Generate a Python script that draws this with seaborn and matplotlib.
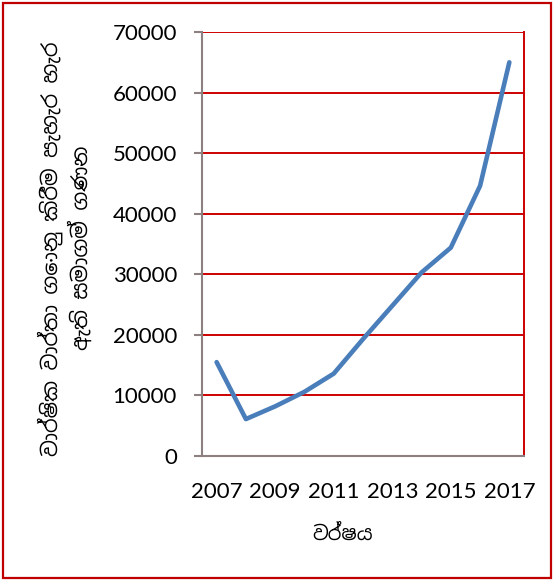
import matplotlib
matplotlib.use("Agg")
import matplotlib.pyplot as plt
import seaborn as sns
import pandas as pd
from matplotlib.patches import Rectangle

years = [2007, 2008, 2009, 2010, 2011, 2012, 2013, 2014, 2015, 2016, 2017]
companies = [15500, 6100, 8200, 10600, 13600, 19300, 24800, 30300, 34400, 44600, 65000]
y_ticks = [0, 10000, 20000, 30000, 40000, 50000, 60000, 70000]
x_ticks = [2007, 2009, 2011, 2013, 2015, 2017]
x_label = "වර්ෂය"
y_label = "වාර්ෂික වාර්තා ගොනු කිරීම පැහැර හැර\nඇති සමාගම් ගණන"

df = pd.DataFrame({"year": years, "count": companies})

sns.set_theme(style="white")
plt.rcParams['font.family'] = ['Noto Sans Sinhala', 'Lato', 'DejaVu Sans']

fig = plt.figure(figsize=(5.54, 5.81), dpi=100)
ax = fig.add_axes([0.3646, 0.2151, 0.5812, 0.7298])

sns.lineplot(data=df, x="year", y="count", ax=ax, color="#4a7ebb", linewidth=3.3)

ax.set_xlim(2006.5, 2017.5)
ax.set_ylim(0, 70000)
ax.set_yticks(y_ticks)
ax.set_xticks(x_ticks)
ax.tick_params(axis="y", labelsize=16, length=6, width=1.5, color="#8c8080",
               left=True, pad=12, labelcolor="black")
ax.tick_params(axis="x", labelsize=16, length=0, pad=19, labelcolor="black")
for lbl in ax.get_xticklabels() + ax.get_yticklabels():
    lbl.set_family(['Lato', 'DejaVu Sans'])
for yt in y_ticks[1:]:
    ax.axhline(yt, color="#cc0000", linewidth=1.4, zorder=0)

for s in ["left", "bottom"]:
    ax.spines[s].set_color("#8c8080")
    ax.spines[s].set_linewidth(1.5)
ax.spines["right"].set_color("#cc0000")
ax.spines["right"].set_linewidth(1.4)
ax.spines["top"].set_visible(False)

ax.set_xlabel(x_label, fontsize=14, fontweight="bold", color="black")
ax.xaxis.set_label_coords(0.435, -0.162)
ax.set_ylabel(y_label, fontsize=15, color="black", linespacing=1.25)
ax.yaxis.set_label_coords(-0.34, 0.49)

fig.patches.append(Rectangle((0.006, 0.005), 0.988, 0.99, transform=fig.transFigure,
                             fill=False, edgecolor="#c00000", linewidth=1.6))

plt.savefig("out.png", dpi=100)
